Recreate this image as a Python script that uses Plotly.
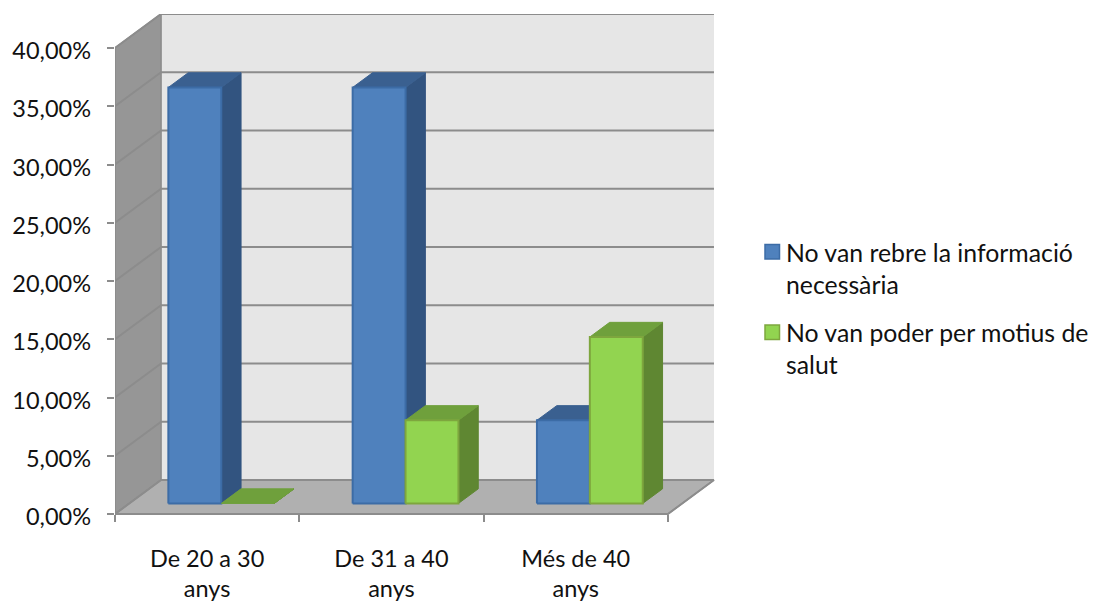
import plotly.graph_objects as go

# Chart data
categories = ["De 20 a 30<br>anys", "De 31 a 40<br>anys", "Més de 40<br>anys"]
series_names = ["No van rebre la informació<br>necessària",
                "No van poder per motius de<br>salut"]
info_values = [35.71, 35.71, 7.14]
health_values = [0.0, 7.14, 14.29]
y_ticks = [0, 5, 10, 15, 20, 25, 30, 35, 40]
y_tick_labels = ["0,00%", "5,00%", "10,00%", "15,00%", "20,00%", "25,00%",
                 "30,00%", "35,00%", "40,00%"]

# Oblique projection: depth 1 shifts a point right and up in axis units
DEPTH_X = 0.25
DEPTH_Y = 2.92
BAR_DEPTH = (0.31, 0.74)
BAR_GAP = 0.212
BAR_WIDTH = 0.287
Y_MAX = 40
N = len(categories)

# Page layout in pixels; the plot runs a little below the zero line so the
# lowered value labels keep their bottom tick
W, H = 1097, 603
PLOT_L, PLOT_R, PLOT_T, PLOT_B = 115, 716, 14, 520
ZERO_PX = 514
PX_PER_CATEGORY = 184.3
PX_PER_PERCENT = 11.65
X_TOP = (PLOT_R - PLOT_L) / PX_PER_CATEGORY
Y_TOP = (ZERO_PX - PLOT_T) / PX_PER_PERCENT
Y_LOW = (ZERO_PX - PLOT_B) / PX_PER_PERCENT
LABEL_DROP = 3 / PX_PER_PERCENT

FONT = "Lato, Carlito, Calibri, sans-serif"
FONT_SIZE = 23.5
LEGEND_SIZE = 24.8
TEXT = "#111111"
LINE = "#8c8c8c"


def project(x, depth, v):
    return x + depth * DEPTH_X, v + depth * DEPTH_Y


def poly(points):
    xs, ys = zip(*[project(*p) for p in points])
    return list(xs) + [xs[0], None], list(ys) + [ys[0], None]


def surface(polys, fill, line, width=1.5):
    xs, ys = [], []
    for p in polys:
        a, b = poly(p)
        xs += a
        ys += b
    return go.Scatter(x=xs, y=ys, mode="lines", fill="toself", fillcolor=fill,
                      line=dict(color=line, width=width), hoverinfo="skip",
                      showlegend=False)


def page_x(px):
    return (px - PLOT_L) / (PLOT_R - PLOT_L)


def page_y(px):
    return (PLOT_B - px) / (PLOT_B - PLOT_T)


fig = go.Figure()

# Back wall, left wall and floor
fig.add_trace(surface([[(0, 1, 0), (N, 1, 0), (N, 1, Y_MAX), (0, 1, Y_MAX)]], "#e6e6e6", "#e6e6e6", 0))
fig.add_trace(surface([[(0, 0, 0), (0, 1, 0), (0, 1, Y_MAX), (0, 0, Y_MAX)]], "#969696", LINE))
fig.add_trace(surface([[(0, 0, 0), (N, 0, 0), (N, 1, 0), (0, 1, 0)]], "#b0b0b0", LINE))

# Gridlines across the back wall and down the left wall
grid_x, grid_y = [], []
for v in y_ticks:
    for pt in [(N, 1, v), (0, 1, v), (0, 0, v)]:
        px, py = project(*pt)
        grid_x.append(px)
        grid_y.append(py)
    grid_x.append(None)
    grid_y.append(None)
fig.add_trace(go.Scatter(x=grid_x, y=grid_y, mode="lines", hoverinfo="skip",
                         line=dict(color=LINE, width=2), showlegend=False))

# Redraw the floor's front and right edges over the gridlines
edge_x, edge_y = zip(*[project(*p) for p in [(0, 0, 0), (N, 0, 0), (N, 1, 0)]])
fig.add_trace(go.Scatter(x=edge_x, y=edge_y, mode="lines", hoverinfo="skip",
                         line=dict(color=LINE, width=2), showlegend=False))
edge_x, edge_y = zip(*[project(*p) for p in [(0, 0, 0), (0, 0, Y_MAX)]])
fig.add_trace(go.Scatter(x=edge_x, y=edge_y, mode="lines", hoverinfo="skip",
                         line=dict(color=LINE, width=2), showlegend=False))

# 3-D bars, one series after the other so the nearer faces overlap correctly
styles = [
    (info_values, 0, "#4f81bd", "#3c6ca6", "#325480", "#3a6090"),
    (health_values, 1, "#92d450", "#7ea63e", "#5f8732", "#6fa03c"),
]
d0, d1 = BAR_DEPTH
for values, slot, front, border, side, top in styles:
    fronts, sides, tops = [], [], []
    for i, v in enumerate(values):
        x0 = i + BAR_GAP + slot * BAR_WIDTH
        x1 = x0 + BAR_WIDTH
        fronts.append([(x0, d0, 0), (x1, d0, 0), (x1, d0, v), (x0, d0, v)])
        sides.append([(x1, d0, 0), (x1, d1, 0), (x1, d1, v), (x1, d0, v)])
        tops.append([(x0, d0, v), (x1, d0, v), (x1, d1, v), (x0, d1, v)])
    fig.add_trace(surface(sides, side, side, 1))
    fig.add_trace(surface(tops, top, top, 1))
    fig.add_trace(surface([p for p, v in zip(fronts, values) if v > 0], front, border, 2))

# Legend block: swatches and wrapped labels placed in page pixels
legend_rows = [(series_names[0], 244.5, "#4f81bd", "#3c6ca6"),
               (series_names[1], 325, "#92d450", "#7ea63e")]
for name, top_px, fill, border in legend_rows:
    fig.add_shape(type="rect", xref="paper", yref="paper",
                  x0=page_x(765), x1=page_x(779.5),
                  y0=page_y(top_px + 14.5), y1=page_y(top_px),
                  fillcolor=fill, line=dict(color=border, width=1.5))
    fig.add_annotation(text=name, xref="paper", yref="paper",
                       x=page_x(785), y=page_y(top_px - 8),
                       xanchor="left", yanchor="top", align="left", showarrow=False,
                       borderpad=0, font=dict(family=FONT, size=LEGEND_SIZE, color=TEXT))

zero_position = page_y(ZERO_PX)
fig.update_layout(
    width=W, height=H, autosize=False,
    margin=dict(l=PLOT_L, r=W - PLOT_R, t=PLOT_T, b=H - PLOT_B),
    paper_bgcolor="white", plot_bgcolor="white",
    font=dict(family=FONT, size=FONT_SIZE, color=TEXT),
    showlegend=False, hovermode=False,
    xaxis=dict(range=[0, X_TOP], tickvals=[0, 1, 2, 3], ticktext=["", "", "", ""],
               anchor="free", position=zero_position,
               ticks="outside", ticklen=7, tickwidth=2, tickcolor=LINE, automargin=False,
               showgrid=False, zeroline=False, showline=False),
    xaxis2=dict(range=[0, X_TOP], overlaying="x", side="bottom",
                anchor="free", position=zero_position,
                tickvals=[0.5, 1.5, 2.5], ticktext=categories, ticks="", automargin=False,
                tickangle=0, ticklabelstandoff=28, showgrid=False, zeroline=False,
                showline=False),
    # Tick marks sit on the primary value axis; the labels on a twin set slightly lower
    yaxis=dict(range=[Y_LOW, Y_TOP], tickvals=y_ticks, ticktext=[""] * len(y_ticks),
               ticks="outside", ticklen=7, tickwidth=2, tickcolor=LINE, automargin=False,
               showgrid=False, zeroline=False, showline=False),
    yaxis2=dict(range=[Y_LOW + LABEL_DROP, Y_TOP + LABEL_DROP], overlaying="y", side="left",
                anchor="x", tickvals=y_ticks, ticktext=y_tick_labels, ticks="",
                automargin=False, ticklabelstandoff=23, showgrid=False, zeroline=False,
                showline=False),
)

# Empty trace that brings the label axes into the figure
fig.add_trace(go.Scatter(x=[0.5, 1.5, 2.5], y=[None, None, None], xaxis="x2", yaxis="y2",
                         hoverinfo="skip", showlegend=False))

fig.write_html("out.html", config={"displayModeBar": False})
